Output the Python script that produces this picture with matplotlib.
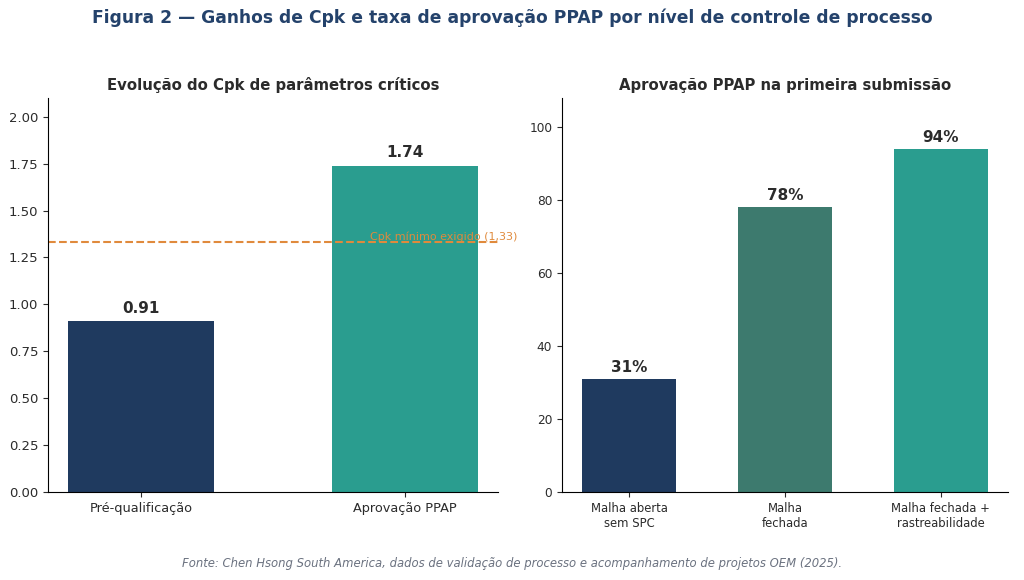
import matplotlib.pyplot as plt

# dados
cpk_cats = ["Pré-qualificação", "Aprovação PPAP"]
cpk_vals = [0.91, 1.74]
cpk_min = 1.33

ppap_cats = ["Malha aberta\nsem SPC", "Malha\nfechada", "Malha fechada +\nrastreabilidade"]
ppap_vals = [31, 78, 94]

navy = "#1f3a5f"
teal = "#2a9d8f"
mid = "#3d7a6e"
orange = "#e08a3c"
dark = "#2b2b2b"

fig = plt.figure(figsize=(10.24, 5.8), dpi=100)
ax1 = fig.add_axes([0.0469, 0.1517, 0.4395, 0.6793])
ax2 = fig.add_axes([0.5488, 0.1517, 0.4355, 0.6793])

# painel esquerdo
ax1.bar(range(len(cpk_cats)), cpk_vals, width=0.55, color=[navy, teal])
for i, v in enumerate(cpk_vals):
    ax1.annotate(f"{v:.2f}", (i, v), xytext=(0, 4), textcoords="offset points",
                 ha="center", va="bottom", fontsize=11, fontweight="bold", color=dark)
ax1.axhline(cpk_min, color=orange, linestyle="--", linewidth=1.5)
ax1.text(1.425, cpk_min + 0.005, "Cpk mínimo exigido (1,33)", ha="right", va="bottom",
         fontsize=8, color=orange, clip_on=False)
ax1.set_ylim(0, 2.1)
ax1.set_yticks([0, 0.25, 0.5, 0.75, 1.0, 1.25, 1.5, 1.75, 2.0])
ax1.set_xticks(range(len(cpk_cats)))
ax1.set_xticklabels(cpk_cats, fontsize=9.3)
ax1.tick_params(axis="y", labelsize=9.5)
ax1.set_title("Evolução do Cpk de parâmetros críticos", fontsize=10.7,
              fontweight="bold", color=dark, pad=6)

# painel direito
ax2.bar(range(len(ppap_cats)), ppap_vals, width=0.6, color=[navy, mid, teal])
for i, v in enumerate(ppap_vals):
    ax2.annotate(f"{v}%", (i, v), xytext=(0, 3), textcoords="offset points",
                 ha="center", va="bottom", fontsize=11, fontweight="bold", color=dark)
ax2.set_ylim(0, 108)
ax2.set_yticks([0, 20, 40, 60, 80, 100])
ax2.set_xticks(range(len(ppap_cats)))
ax2.set_xticklabels(ppap_cats, fontsize=8.4)
ax2.tick_params(axis="y", labelsize=8.7)
ax2.set_title("Aprovação PPAP na primeira submissão", fontsize=10.7,
              fontweight="bold", color=dark, pad=6)

for ax in (ax1, ax2):
    ax.spines["top"].set_visible(False)
    ax.spines["right"].set_visible(False)
    ax.tick_params(colors=dark)

fig.suptitle("Figura 2 — Ganhos de Cpk e taxa de aprovação PPAP por nível de controle de processo",
             y=0.985, fontsize=12.3, fontweight="bold", color="#24426b")
fig.text(0.5, 0.022, "Fonte: Chen Hsong South America, dados de validação de processo e "
         "acompanhamento de projetos OEM (2025).", ha="center", fontsize=8.4,
         style="italic", color="#6b7280")

fig.savefig("out.png", dpi=100)
